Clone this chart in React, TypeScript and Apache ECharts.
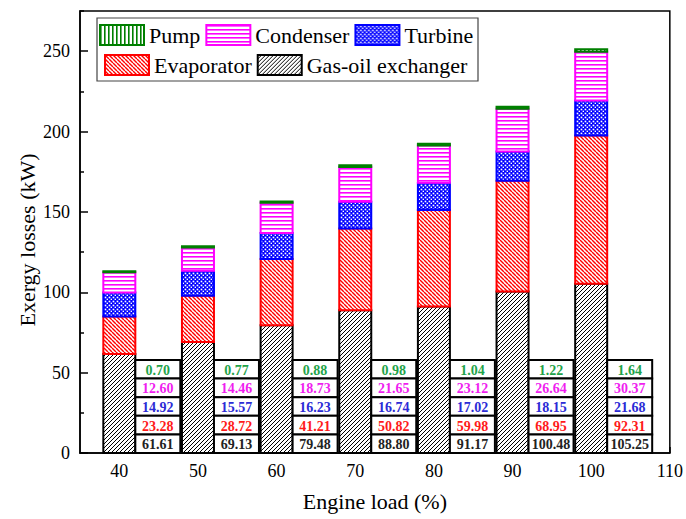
import { useEffect, useRef } from "react";
import * as echarts from "echarts";

// Engine load (%) and exergy losses (kW) per component
const loads = [40, 50, 60, 70, 80, 90, 100];
const gasOil = [61.61, 69.13, 79.48, 88.8, 91.17, 100.48, 105.25];
const evaporator = [23.28, 28.72, 41.21, 50.82, 59.98, 68.95, 92.31];
const turbine = [14.92, 15.57, 16.23, 16.74, 17.02, 18.15, 21.68];
const condenser = [12.6, 14.46, 18.73, 21.65, 23.12, 26.64, 30.37];
const pump = [0.7, 0.77, 0.88, 0.98, 1.04, 1.22, 1.64];

const xTicks = [40, 50, 60, 70, 80, 90, 100, 110];
const yTicks = [0, 50, 100, 150, 200, 250];
const yMinorTicks = [25, 75, 125, 175, 225, 275];

const SERIF = '"Liberation Serif", "Times New Roman", serif';

type Hatch = "diagUp" | "diagDown" | "horiz" | "vert" | "dots";

function makePattern(kind: Hatch, color: string, size: number, lw: number) {
  const c = document.createElement("canvas");
  c.width = size;
  c.height = size;
  const g = c.getContext("2d")!;
  g.fillStyle = "#fff";
  g.fillRect(0, 0, size, size);
  g.strokeStyle = color;
  g.fillStyle = color;
  g.lineWidth = lw;
  if (kind === "diagUp" || kind === "diagDown") {
    for (const k of [-size, 0, size]) {
      g.beginPath();
      if (kind === "diagUp") {
        g.moveTo(k, size);
        g.lineTo(k + size, 0);
      } else {
        g.moveTo(k, 0);
        g.lineTo(k + size, size);
      }
      g.stroke();
    }
  } else if (kind === "horiz") {
    g.fillRect(0, 0, size, lw);
  } else if (kind === "vert") {
    g.fillRect(0, 0, lw, size);
  } else {
    g.fillRect(0, 0, size, size);
    g.fillStyle = "#fff";
    const h = size / 2;
    g.fillRect(0.6, 0.6, lw, lw);
    g.fillRect(0.6 + h, 0.6 + h, lw, lw);
  }
  return {
    image: c.toDataURL(),
    repeat: "repeat",
    imageWidth: size,
    imageHeight: size,
  } as any;
}

const labelColors = ["#1fa34a", "#f01ef0", "#2b2bd6", "#ff1a1a", "#222222"];

export default function App() {
  const ref = useRef<HTMLDivElement>(null);

  useEffect(() => {
    if (!ref.current) return;
    const chart = echarts.init(ref.current, undefined, { renderer: "svg" });

    // stacking order, bottom to top
    const defs = [
      { name: "Gas-oil exchanger", data: gasOil, color: "#000000", fill: makePattern("diagUp", "#000", 4, 1) },
      { name: "Evaporator", data: evaporator, color: "#ff0000", fill: makePattern("diagDown", "#ff0000", 4, 1.4) },
      { name: "Turbine", data: turbine, color: "#0000ff", fill: makePattern("dots", "#0000ff", 4, 1.7) },
      { name: "Condenser", data: condenser, color: "#ff00ff", fill: makePattern("horiz", "#ff00ff", 4, 1.6) },
      { name: "Pump", data: pump, color: "#008000", fill: makePattern("vert", "#008000", 4, 1.6) },
    ];

    const base = loads.map(() => 0);
    const barSeries = defs.map((d, si) => {
      const data = loads.map((x, i) => {
        const lo = base[i];
        base[i] += d.data[i];
        return [x, lo, base[i], d.data[i]];
      });
      return {
        name: d.name,
        type: "custom",
        z: 2 + si,
        data,
        encode: { x: 0, y: [1, 2] },
        itemStyle: { color: d.fill, borderColor: d.color, borderWidth: 2 },
        renderItem: (_p: any, api: any) => {
          const x = api.value(0);
          const p1 = api.coord([x, api.value(1)]);
          const p2 = api.coord([x, api.value(2)]);
          return {
            type: "rect",
            shape: { x: p1[0] - 16, y: p2[1], width: 32, height: p1[1] - p2[1] },
            style: { fill: d.fill, stroke: d.color, lineWidth: 2 },
          };
        },
      };
    });

    const rowsFor = (i: number) => [pump[i], condenser[i], turbine[i], evaporator[i], gasOil[i]];

    const legendCommon = {
      icon: "rect",
      itemWidth: 44,
      itemHeight: 20,
      itemGap: 5,
      padding: 0,
      selectedMode: false,
      textStyle: { fontFamily: SERIF, fontSize: 22, color: "#000" },
      itemStyle: { borderWidth: 2 },
    };

    chart.setOption({
      animation: false,
      grid: {
        left: 80,
        right: 13,
        top: 11,
        bottom: 66,
        show: true,
        borderColor: "#000",
        borderWidth: 1.5,
        containLabel: false,
      },
      legend: [
        { ...legendCommon, left: 99, top: 24, data: ["Pump", "Condenser", "Turbine"] },
        { ...legendCommon, left: 104, top: 54, data: ["Evaporator", "Gas-oil exchanger"] },
      ],
      graphic: [
        {
          type: "rect",
          shape: { x: 97, y: 18, width: 381, height: 63 },
          style: { fill: "none", stroke: "#444", lineWidth: 1.2 },
          z: 100,
        },
        {
          type: "text",
          x: 27,
          y: 240,
          rotation: Math.PI / 2,
          style: {
            text: "Exergy losses (kW)",
            font: `22px ${SERIF}`,
            fill: "#000",
            align: "center",
            verticalAlign: "middle",
          },
          z: 100,
        },
      ],
      xAxis: {
        type: "value",
        min: 35,
        max: 110,
        name: "Engine load (%)",
        nameLocation: "middle",
        nameGap: 37,
        nameTextStyle: { fontFamily: SERIF, fontSize: 22, color: "#000" },
        axisLine: { lineStyle: { color: "#000", width: 1.5 } },
        axisTick: { show: true, inside: true, length: 6, customValues: xTicks, lineStyle: { color: "#000", width: 1.5 } },
        axisLabel: { customValues: xTicks, fontFamily: SERIF, fontSize: 18, color: "#000", margin: 9 },
        splitLine: { show: false },
      },
      yAxis: [
        {
          type: "value",
          min: 0,
          max: 275,
          axisLine: { show: true, lineStyle: { color: "#000", width: 1.5 } },
          axisTick: { show: true, inside: true, length: 8, customValues: yTicks, lineStyle: { color: "#000", width: 1.5 } },
          axisLabel: { customValues: yTicks, fontFamily: SERIF, fontSize: 18, color: "#000", margin: 10 },
          splitLine: { show: false },
        },
        {
          type: "value",
          min: 0,
          max: 275,
          position: "left",
          axisLine: { show: false },
          axisTick: { show: true, inside: true, length: 4, customValues: yMinorTicks, lineStyle: { color: "#000", width: 1.5 } },
          axisLabel: { show: false },
          splitLine: { show: false },
        },
      ],
      series: [
        ...barSeries,
        {
          type: "custom",
          name: "values",
          z: 10,
          data: loads.map((x, i) => [x, i]),
          encode: { x: 0, y: 1 },
          renderItem: (_params: any, api: any) => {
            const i = api.value(1);
            const [cx, y0] = api.coord([api.value(0), 0]);
            const left = cx + 16;
            const w = 45;
            const h = 18.6;
            const rows = rowsFor(i);
            const children: any[] = [];
            rows.forEach((v, k) => {
              const top = y0 - (5 - k) * h;
              children.push({
                type: "rect",
                shape: { x: left, y: top, width: w, height: h },
                style: { fill: "#fff", stroke: "#000", lineWidth: 2 },
              });
              children.push({
                type: "text",
                x: left + w / 2,
                y: top + h / 2 + 1,
                style: {
                  text: v.toFixed(2),
                  fill: labelColors[k],
                  font: `bold 14px ${SERIF}`,
                  align: "center",
                  verticalAlign: "middle",
                },
              });
            });
            return { type: "group", children };
          },
        },
      ],
    } as any);

    return () => chart.dispose();
  }, []);

  return <div ref={ref} style={{ width: 686, height: 519, position: "absolute", left: 0, top: 0 }} />;
}
